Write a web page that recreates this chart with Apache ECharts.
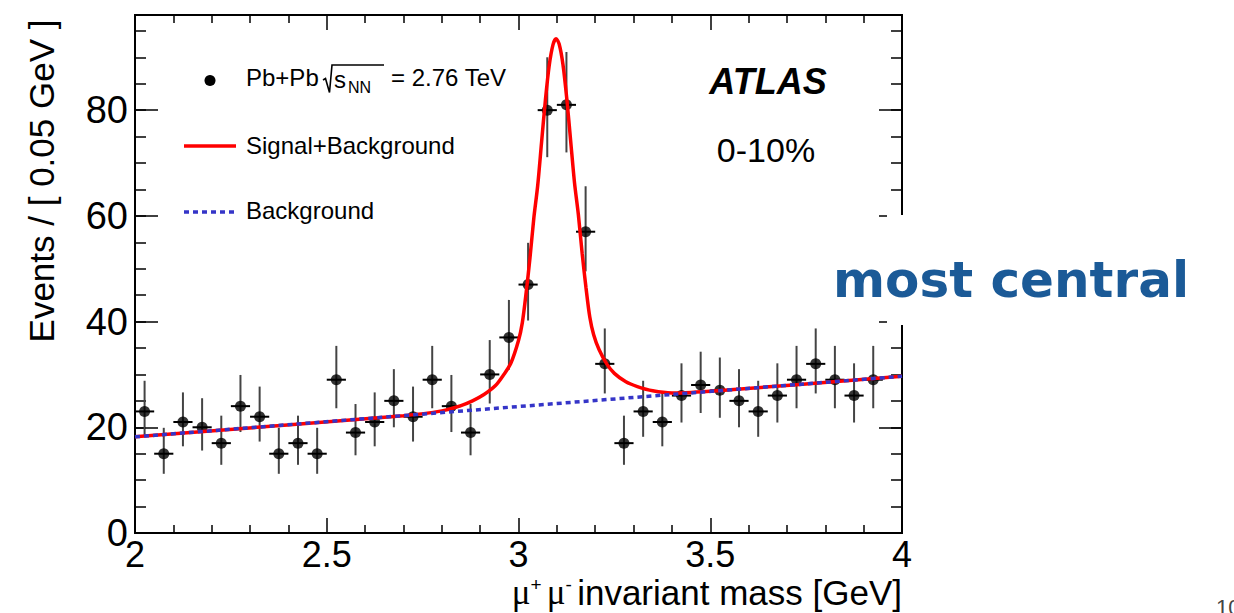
<!DOCTYPE html>
<html>
<head>
<meta charset="utf-8">
<script src="https://cdn.jsdelivr.net/npm/echarts@6/dist/echarts.min.js"></script>
<style>
html,body{margin:0;padding:0;background:#fff;}
#c{width:1234px;height:613px;}
</style>
</head>
<body>
<div id="c"></div>
<script>
// ---- data ----
const binCenters = [2.025,2.075,2.125,2.175,2.225,2.275,2.325,2.375,2.425,2.475,
                    2.525,2.575,2.625,2.675,2.725,2.775,2.825,2.875,2.925,2.975,
                    3.025,3.075,3.125,3.175,3.225,3.275,3.325,3.375,3.425,3.475,
                    3.525,3.575,3.625,3.675,3.725,3.775,3.825,3.875,3.925];
const counts = [23,15,21,20,17,24,22,15,17,15,
                29,19,21,25,22,29,24,19,30,37,
                47,80,81,57,32,17,23,21,26,28,
                27,25,23,26,29,32,29,26,29];
const errLow = [4.8,3.8,4.6,4.4,4.1,4.9,4.7,3.8,4.1,3.8,
                5.4,4.3,4.6,5.0,4.7,5.4,4.9,4.3,5.5,6.1,
                6.8,8.9,9.0,7.5,5.6,4.1,4.8,4.6,5.1,5.3,
                5.2,5.0,4.8,5.1,5.4,5.6,5.4,5.1,5.4];
const errHigh = [5.8,4.9,5.6,5.5,5.2,5.9,5.7,4.9,5.2,4.9,
                 6.4,5.4,5.6,6.0,5.7,6.4,5.9,5.4,6.5,7.1,
                 7.9,10.0,10.0,8.6,6.7,5.2,5.8,5.6,6.1,6.3,
                 6.2,6.0,5.8,6.1,6.4,6.7,6.4,6.1,6.4];
const binHalfWidth = 0.025;

// Signal+Background fit curve
const fitMass  = [2.00,2.70,2.80,2.85,2.88,2.91,2.94,2.96,2.98,3.00,3.01,3.02,3.03,3.04,3.05,3.06,3.07,3.08,3.09,3.098,
                  3.106,3.116,3.126,3.136,3.146,3.156,3.166,3.176,3.186,3.196,3.21,3.23,3.25,3.28,3.31,3.35,3.40,3.45,3.50,4.00];
const fitTotal = [18.2,22.2,23.1,24.1,25.0,26.2,27.9,29.8,32.1,36.4,39.8,45.5,52.1,59.6,65.7,73.8,81.8,88.4,92.4,93.5,
                  92.5,88.6,82.1,74.2,66.3,60.3,52.9,46.4,40.8,37.5,34.7,32.0,30.2,28.6,27.7,26.9,26.5,26.6,26.8,29.64];
// Background fit line
const bgMass  = [2.0, 4.0];
const bgLevel = [18.2, 29.65];

const legendLabels = ['Signal+Background', 'Background'];

// ---- chart ----
const chart = echarts.init(document.getElementById('c'), null, {renderer: 'svg', width: 1234, height: 613});
const FONT = 'Liberation Sans, Arial, Helvetica, sans-serif';

function xAxisDef(pos, showLabels) {
  return {
    type: 'value', position: pos, min: 2, max: 4, interval: 0.5,
    axisLine: {show: true, onZero: false, lineStyle: {color: '#000', width: 2}},
    axisTick: {show: true, inside: true, length: 15, lineStyle: {color: '#000', width: 1.5}},
    minorTick: {show: true, splitNumber: 5, length: 8, lineStyle: {color: '#000', width: 1.5}},
    splitLine: {show: false}, minorSplitLine: {show: false},
    axisLabel: {show: showLabels, fontSize: 36, fontFamily: FONT, color: '#000', margin: 3}
  };
}
function yAxisDef(pos, interval, tickLen, showLabels) {
  return {
    type: 'value', position: pos, min: 0, max: 98, interval: interval,
    axisLine: {show: true, onZero: false, lineStyle: {color: '#000', width: 2}},
    axisTick: {show: true, inside: true, length: tickLen, lineStyle: {color: '#000', width: 1.5}},
    splitLine: {show: false},
    axisLabel: {show: showLabels, fontSize: 38, fontFamily: FONT, color: '#000', margin: 7,
      formatter: v => (v % 20 === 0 ? String(v) : '')}
  };
}

const option = {
  animation: false,
  backgroundColor: '#fff',
  grid: {left: 135, right: 332, top: 15, bottom: 80},
  xAxis: [xAxisDef('bottom', true), xAxisDef('top', false)],
  yAxis: [yAxisDef('left', 5, 11, true), yAxisDef('left', 20, 23, false),
          yAxisDef('right', 5, 11, false), yAxisDef('right', 20, 23, false)],
  series: [
    {
      type: 'custom', name: 'errors', xAxisIndex: 0, yAxisIndex: 0, z: 3,
      data: binCenters.map((m, i) => [m, counts[i], errLow[i], errHigh[i]]),
      encode: {x: 0, y: 1},
      renderItem: function (params, api) {
        const x = api.value(0), y = api.value(1), lo = api.value(2), hi = api.value(3);
        const pT = api.coord([x, y + hi]);
        const pB = api.coord([x, y - lo]);
        const pL = api.coord([x - binHalfWidth, y]);
        const pR = api.coord([x + binHalfWidth, y]);
        return {type: 'group', children: [
          {type: 'line', shape: {x1: pT[0], y1: pT[1], x2: pB[0], y2: pB[1]}, style: {stroke: '#444', lineWidth: 2}},
          {type: 'line', shape: {x1: pL[0], y1: pL[1], x2: pR[0], y2: pR[1]}, style: {stroke: '#000', lineWidth: 2}}
        ]};
      }
    },
    {
      type: 'scatter', name: 'data', xAxisIndex: 0, yAxisIndex: 0, z: 4,
      data: binCenters.map((m, i) => [m, counts[i]]),
      symbol: 'circle', symbolSize: 11, itemStyle: {color: '#000'}
    },
    {
      type: 'line', name: legendLabels[0], xAxisIndex: 0, yAxisIndex: 0, z: 5,
      data: fitMass.map((m, i) => [m, fitTotal[i]]),
      smooth: 0.3, showSymbol: false, symbol: 'none',
      lineStyle: {color: '#ff0000', width: 3.5}
    },
    {
      type: 'line', name: legendLabels[1], xAxisIndex: 0, yAxisIndex: 0, z: 6,
      data: bgMass.map((m, i) => [m, bgLevel[i]]),
      showSymbol: false, symbol: 'none',
      lineStyle: {color: '#3535c8', width: 3.5, type: [5, 4]}
    }
  ],
  graphic: [
    // axis titles
    {type: 'text', x: 41, y: 181, rotation: Math.PI / 2, z: 50,
     style: {text: 'Events / [ 0.05 GeV ]', font: '35px ' + FONT, fill: '#000', textAlign: 'center', textVerticalAlign: 'middle'}},
    {type: 'text', x: 902, y: 592, z: 50,
     style: {text: '{mu|μ}{sup|+\u00a0}{mu|μ}{sup|-\u00a0}{t|invariant mass [GeV]}', textAlign: 'right', textVerticalAlign: 'middle',
       rich: {
         mu: {fontFamily: 'Liberation Serif, serif', fontSize: 35, fill: '#000', verticalAlign: 'bottom'},
         sup: {fontFamily: FONT, fontSize: 19, fill: '#000', verticalAlign: 'top'},
         t: {fontFamily: FONT, fontSize: 35, fill: '#000', verticalAlign: 'bottom'}
       }}},
    // legend
    {type: 'circle', shape: {cx: 210, cy: 80.5, r: 5.5}, style: {fill: '#000'}, z: 50},
    {type: 'text', x: 246, y: 77, z: 50,
     style: {text: 'Pb+Pb', font: '24px ' + FONT, fill: '#000', textVerticalAlign: 'middle'}},
    {type: 'polyline', z: 50, shape: {points: [[323, 80], [325.5, 78.5], [329.5, 92.5], [332, 65], [384, 65]]},
     style: {stroke: '#000', lineWidth: 1.6, fill: null}},
    {type: 'text', x: 334, y: 79, z: 50,
     style: {text: 's', font: '24px ' + FONT, fill: '#000', textVerticalAlign: 'middle'}},
    {type: 'text', x: 348, y: 87, z: 50,
     style: {text: 'NN', font: '16px ' + FONT, fill: '#000', textVerticalAlign: 'middle'}},
    {type: 'text', x: 391, y: 77, z: 50,
     style: {text: '= 2.76 TeV', font: '24px ' + FONT, fill: '#000', textVerticalAlign: 'middle'}},
    {type: 'line', z: 50, shape: {x1: 184, y1: 146, x2: 236, y2: 146}, style: {stroke: '#ff0000', lineWidth: 3.5}},
    {type: 'text', x: 246, y: 145, z: 50,
     style: {text: legendLabels[0], font: '24px ' + FONT, fill: '#000', textVerticalAlign: 'middle'}},
    {type: 'line', z: 50, shape: {x1: 184, y1: 212, x2: 236, y2: 212}, style: {stroke: '#3535c8', lineWidth: 3.5, lineDash: [5, 4]}},
    {type: 'text', x: 246, y: 210, z: 50,
     style: {text: legendLabels[1], font: '24px ' + FONT, fill: '#000', textVerticalAlign: 'middle'}},
    // labels
    {type: 'text', x: 768, y: 81, z: 50,
     style: {text: 'ATLAS', font: 'italic bold 36px ' + FONT, fill: '#000', textAlign: 'center', textVerticalAlign: 'middle'}},
    {type: 'text', x: 766, y: 150, z: 50,
     style: {text: '0-10%', font: '34px ' + FONT, fill: '#000', textAlign: 'center', textVerticalAlign: 'middle'}},
    // annotation box
    {type: 'rect', z: 60, shape: {x: 887, y: 215, width: 347, height: 110}, style: {fill: '#fff'}},
    {type: 'text', x: 1011, y: 280, z: 61,
     style: {text: 'most central', font: 'bold 50px DejaVu Sans, sans-serif', fill: '#1b5a97', textAlign: 'center', textVerticalAlign: 'middle'}},
    // page number (cut by the page edge, as in the reference)
    {type: 'text', x: 1216, y: 607, z: 61,
     style: {text: '10', font: '22px ' + FONT, fill: '#444', textVerticalAlign: 'middle'}}
  ]
};
chart.setOption(option);
</script>
</body>
</html>
